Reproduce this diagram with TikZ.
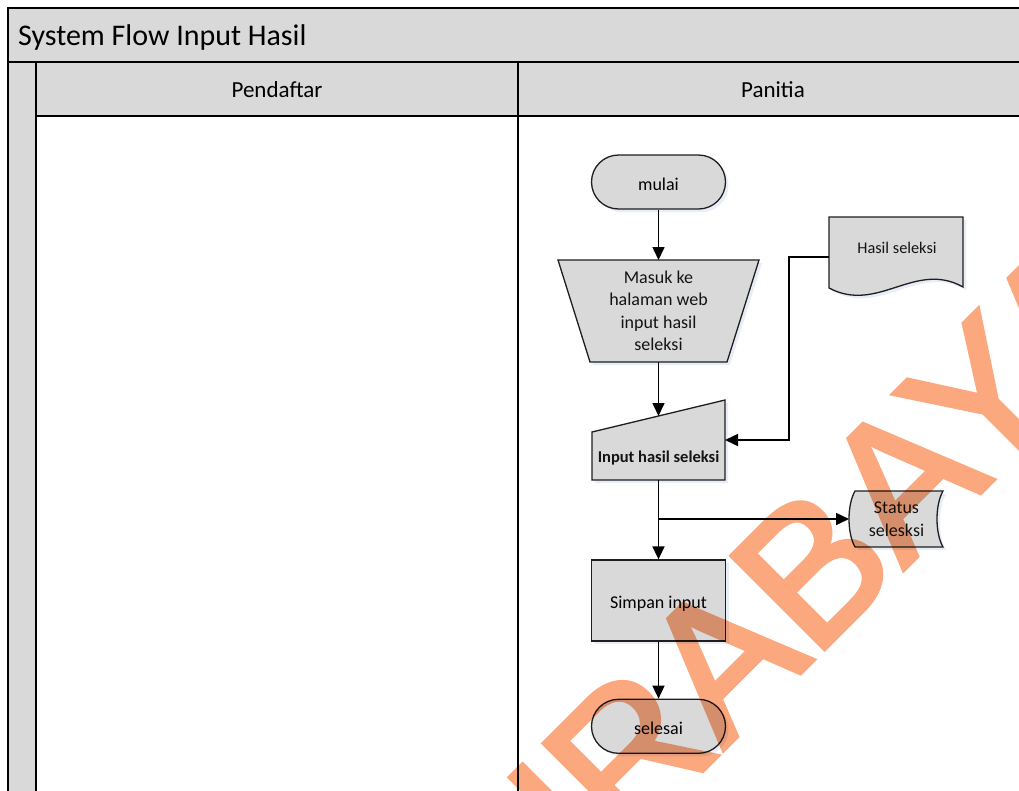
\documentclass[tikz,border=0pt]{standalone}
\usepackage{fontspec}
\setmainfont{Carlito}
\newfontfamily\stampfont[FakeBold=2.5]{Liberation Sans}
\usetikzlibrary{arrows.meta,shadows}

\definecolor{bandgray}{RGB}{217,217,217}
\definecolor{shapegray}{RGB}{217,217,217}
\definecolor{edgegray}{RGB}{30,30,30}
\definecolor{softshade}{RGB}{232,237,248}
\definecolor{stamp}{RGB}{251,168,126}

\begin{document}
\begin{tikzpicture}[x=1pt,y=-1pt,
  frameline/.style={draw=black, line width=1.4pt},
  shp/.style={fill=shapegray, draw=edgegray, line width=1.3pt},
  shade/.style={fill=softshade, draw=none},
  txt/.style={inner sep=0pt, text=black!92, font=\fontsize{18}{22.5}\selectfont, align=center},
  termbox/.style={shp, rounded corners=27pt, minimum width=134pt, minimum height=54pt,
    inner sep=0pt, text height=16pt, text depth=0pt, font=\fontsize{18}{22.5}\selectfont,
    drop shadow={shadow xshift=3pt, shadow yshift=-3pt, fill=softshade, opacity=1}},
  procbox/.style={shp, minimum width=134pt, minimum height=81pt,
    inner sep=0pt, text height=16pt, text depth=0pt, font=\fontsize{18}{22.5}\selectfont,
    drop shadow={shadow xshift=3pt, shadow yshift=-3pt, fill=softshade, opacity=1}},
  arr/.style={draw=black, line width=1.6pt, -{Triangle[length=13pt,width=12pt]}},
]
\useasboundingbox (0,0) rectangle (1019,790);
\clip (0,0) rectangle (1019,790);

% ---- swimlane frame ----
\fill[bandgray] (8,8) rectangle (1028,62);
\fill[bandgray] (8,62) rectangle (36,800);
\fill[bandgray] (36,62) rectangle (1028,116);
\draw[frameline] (1028,8) -- (8,8) -- (8,800);
\draw[frameline] (8,62) -- (1028,62);
\draw[frameline] (36,62) -- (36,800);
\draw[frameline] (36,116) -- (1028,116);
\draw[frameline] (518,62) -- (518,800);
\draw[frameline] (1028,8) -- (1028,800);

\node[anchor=base west, inner sep=0pt, font=\fontsize{30}{36}\selectfont] (title) at (18,45) {System Flow Input Hasil};
\node[anchor=base, inner sep=0pt, font=\fontsize{23}{28}\selectfont] (lanePendaftar) at (277,97) {Pendaftar};
\node[anchor=base, inner sep=0pt, font=\fontsize{23}{28}\selectfont] (lanePanitia) at (773,97) {Panitia};

% ---- start terminator ----
\node[termbox] (mulai) at (658.5,182) {mulai};

% ---- manual operation (trapezoid) ----
\fill[shade, shift={(3,3)}] (558,260) -- (759,260) -- (727,362) -- (590,362) -- cycle;
\draw[shp] (558,260) -- (759,260) -- (727,362) -- (590,362) -- cycle;
\node[txt] (masuk) at (658.5,311) {Masuk ke\\halaman web\\input hasil\\seleksi};
\coordinate (masukTop) at (658.5,260);
\coordinate (masukBot) at (658.5,362);

% ---- document ----
\fill[shade, shift={(3,3)}] (829,217) -- (963,217) -- (963,287)
  .. controls (915,260) and (878,314) .. (829,288) -- cycle;
\draw[shp] (829,217) -- (963,217) -- (963,287)
  .. controls (915,260) and (878,314) .. (829,288) -- cycle;
\node[txt, font=\fontsize{16.3}{19}\selectfont] (hasil) at (897,247.5) {Hasil seleksi};
\coordinate (hasilWest) at (829,257);

% ---- manual input ----
\fill[shade, shift={(3,3)}] (592,432) -- (725,400) -- (725,480) -- (592,480) -- cycle;
\draw[shp] (592,432) -- (725,400) -- (725,480) -- (592,480) -- cycle;
\node[txt, font=\bfseries\fontsize{16.5}{20}\selectfont] (inputHasil) at (658.5,457.5) {Input hasil seleksi};
\coordinate (inputTop) at (658.5,416);
\coordinate (inputEast) at (725,440);
\coordinate (inputBot) at (658.5,480);

% ---- stored data ----
\fill[shade, shift={(3,3)}] (855,491) -- (943,491) .. controls (935,505) and (935,533) .. (943,547)
  -- (855,547) .. controls (847,533) and (847,505) .. (855,491) -- cycle;
\draw[shp] (855,491) -- (943,491) .. controls (935,505) and (935,533) .. (943,547)
  -- (855,547) .. controls (847,533) and (847,505) .. (855,491) -- cycle;
\node[txt] (status) at (896.5,519) {Status\\selesksi};
\coordinate (statusWest) at (849,519);

% ---- process and end ----
\node[procbox] (simpan) at (658.5,600.5) {Simpan input};
\node[termbox] (selesai) at (658.5,726.3) {selesai};

% ---- connectors ----
\coordinate (split) at (658.5,519);
\draw[arr] (mulai.south) -- (masukTop);
\draw[arr] (masukBot) -- (inputTop);
\draw[arr] (hasilWest) -- ++(-40,0) |- (inputEast);
\draw[line width=1.6pt] (inputBot) -- (split);
\draw[arr] (split) -- (simpan.north);
\draw[arr] (split) -- (statusWest);
\draw[arr] (simpan.south) -- (selesai.north);

% ---- stamp lettering: painted as one group, multiplied over the chart ----
\begin{scope}[blend mode=multiply]
\begin{scope}[transparency group]
\node[anchor=base west, inner sep=0pt, rotate=45, color=stamp,
  font=\stampfont\fontsize{191}{191}\selectfont] (stampText) at (438.2,1035.1) {SURABAYA};
\end{scope}
\end{scope}
\end{tikzpicture}
\end{document}
